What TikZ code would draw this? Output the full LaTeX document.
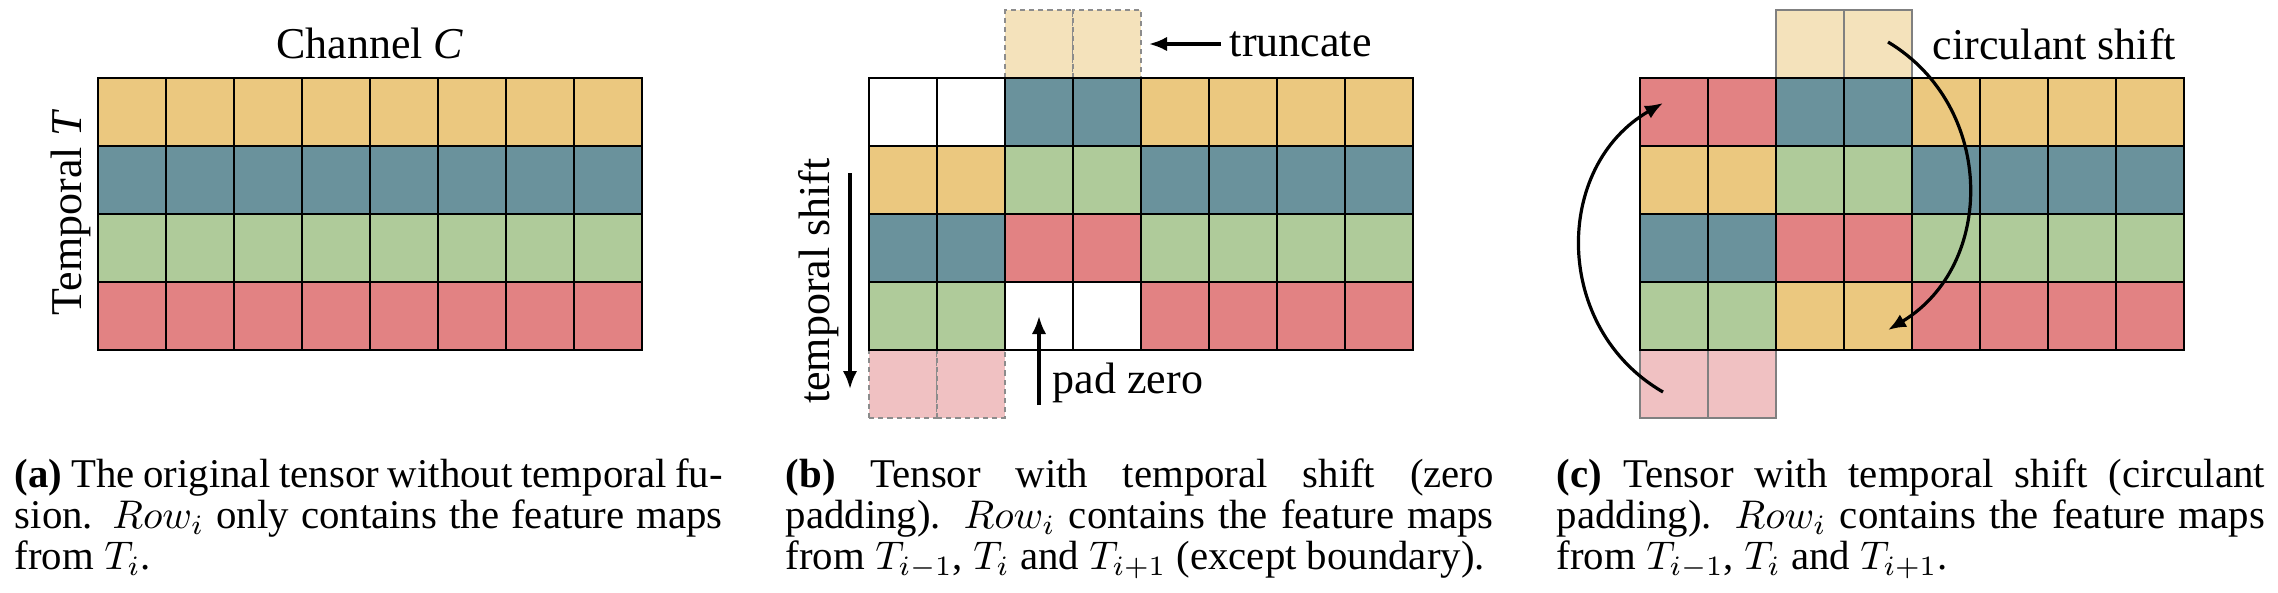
\documentclass[tikz,border=0pt]{standalone}
\usepackage[no-math]{fontspec}
\setmainfont{Liberation Serif}
\usepackage{tikz}
\usetikzlibrary{arrows.meta,positioning,calc}
\definecolor{Sand}{HTML}{EBC87F}
\definecolor{Teal}{HTML}{6A929C}
\definecolor{Sage}{HTML}{AFCB9A}
\definecolor{Coral}{HTML}{E28283}
\definecolor{SandLight}{HTML}{F4E2BB}
\definecolor{CoralLight}{HTML}{F0C1C2}
\tikzset{
  cell/.style={draw,line width=0.7pt,minimum size=17pt,inner sep=0pt,outer sep=0pt},
  ghost/.style={cell,draw=black!45,line width=0.6pt,dash pattern=on 1.3pt off 1pt},
  spill/.style={cell,draw=black!50},
  lbl/.style={font=\fontsize{11}{13}\selectfont,inner sep=2pt},
  subcap/.style={font=\fontsize{10.2}{10.25}\selectfont,text width=177pt,align=justify,
    inner sep=0pt,anchor=north west},
}
\begin{document}
\begin{tikzpicture}[x=0.25pt,y=0.25pt,>={Latex[length=4.5pt,width=3.6pt]}]
  \useasboundingbox (0,0) rectangle (2278,-592);
  % (a) original tensor
  \foreach \r/\fc in {0/Sand,1/Teal,2/Sage,3/Coral}
    \foreach \c in {0,...,7}
      \node[cell,fill=\fc] (a-\r-\c) at (132+68*\c,-112-68*\r) {};
  \node[lbl,above=2.5pt of a-0-3.north east] (chan) {Channel \textit{C}};
  \node[lbl,rotate=90,anchor=base] (temp) at (81,-212) {Temporal \textit{T}};

  % (b) zero padding
  \foreach \c in {2,3} \node[ghost,fill=SandLight] (b-t-\c) at (903+68*\c,-44) {};
  \foreach \c in {0,1} \node[ghost,fill=CoralLight] (b-d-\c) at (903+68*\c,-384) {};
  \foreach \r/\fa/\fb/\fc in {0/white/Teal/Sand,1/Sand/Sage/Teal,2/Teal/Coral/Sage,3/Sage/white/Coral}{
    \foreach \c in {0,1} \node[cell,fill=\fa] (b-\r-\c) at (903+68*\c,-112-68*\r) {};
    \foreach \c in {2,3} \node[cell,fill=\fb] (b-\r-\c) at (903+68*\c,-112-68*\r) {};
    \foreach \c in {4,...,7} \node[cell,fill=\fc] (b-\r-\c) at (903+68*\c,-112-68*\r) {};
  }
  \node[lbl,right=20pt of b-t-3] (trunc) {truncate};
  \draw[->,thick,shorten >=2pt] (trunc) -- (b-t-3);
  \coordinate (padfoot) at ([yshift=-22.25pt]b-3-2.center);
  \draw[->,thick] (padfoot) -- (b-3-2.center);
  \node[lbl,anchor=base west] (padlbl) at (1044,-393) {pad zero};
  \coordinate (shifttop) at (850,-173);
  \coordinate (shiftbot) at (850,-389);
  \draw[->,thick] (shifttop) -- (shiftbot);
  \node[lbl,rotate=90] (shiftlbl) at (819,-281) {temporal shift};

  % (c) circulant padding
  \foreach \c in {2,3} \node[spill,fill=SandLight] (c-t-\c) at (1674+68*\c,-44) {};
  \foreach \c in {0,1} \node[spill,fill=CoralLight] (c-d-\c) at (1674+68*\c,-384) {};
  \foreach \r/\fa/\fb/\fc in {0/Coral/Teal/Sand,1/Sand/Sage/Teal,2/Teal/Coral/Sage,3/Sage/Sand/Coral}{
    \foreach \c in {0,1} \node[cell,fill=\fa] (c-\r-\c) at (1674+68*\c,-112-68*\r) {};
    \foreach \c in {2,3} \node[cell,fill=\fb] (c-\r-\c) at (1674+68*\c,-112-68*\r) {};
    \foreach \c in {4,...,7} \node[cell,fill=\fc] (c-\r-\c) at (1674+68*\c,-112-68*\r) {};
  }
  \node[lbl,right=3pt of c-t-3] (circ) {circulant shift};
  \draw[->,thick] ([xshift=2.5pt,yshift=0.5pt]c-t-3.center)
    to[bend left=59,looseness=1.12] ([xshift=2.5pt,yshift=-3.5pt]c-3-3.center);
  \draw[->,thick] ([xshift=-2.75pt,yshift=-2pt]c-d-0.center)
    to[bend left=60,looseness=1.13] ([xshift=-2.75pt,yshift=2.25pt]c-0-0.center);

  % captions
  \node[subcap] (capa) at (14,-458) {\textbf{(a)} The original tensor without temporal fu-\linebreak
    sion. $Row_i$ only contains the feature maps from $T_i$.};
  \node[subcap] (capb) at (785,-458) {\textbf{(b)} Tensor with temporal shift (zero\linebreak
    padding). $Row_i$ contains the feature maps from $T_{i-1}$, $T_i$ and $T_{i+1}$ (except boundary).};
  \node[subcap] (capc) at (1556,-458) {\textbf{(c)} Tensor with temporal shift (circulant
    padding). $Row_i$ contains the feature maps from $T_{i-1}$, $T_i$ and $T_{i+1}$.};
\end{tikzpicture}
\end{document}
